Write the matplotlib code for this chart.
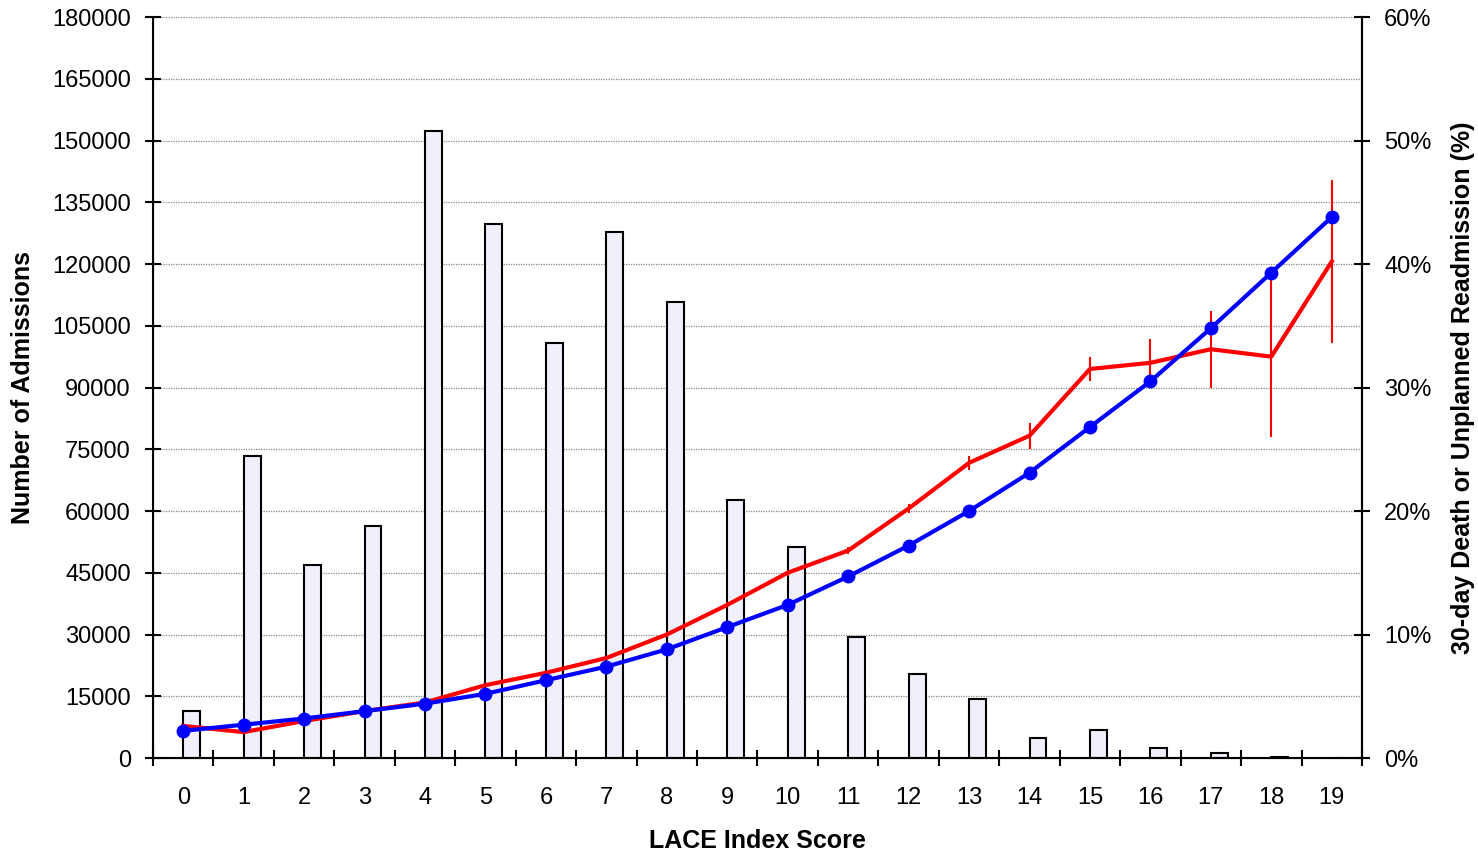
import matplotlib.pyplot as plt
import numpy as np

plt.rcParams['font.family'] = ['Liberation Sans', 'DejaVu Sans']

# LACE index score categories
scores = list(range(20))

# number of admissions per score (left axis)
admissions = [11500, 73300, 46800, 56300, 152300, 129600, 100800, 127700, 110700, 62600,
              51200, 29400, 20500, 14300, 4800, 6700, 2500, 1200, 200, 100]

# expected (blue) and observed (red) 30-day death or readmission, %
expected = [2.2, 2.7, 3.2, 3.8, 4.4, 5.2, 6.3, 7.4, 8.8, 10.6,
            12.4, 14.7, 17.2, 20.0, 23.1, 26.8, 30.5, 34.8, 39.3, 43.8]
observed = [2.6, 2.1, 3.0, 3.8, 4.5, 5.9, 6.9, 8.1, 10.0, 12.4,
            15.0, 16.8, 20.2, 23.9, 26.1, 31.5, 32.0, 33.1, 32.5, 40.2]
observed_err = [0.15, 0.1, 0.1, 0.1, 0.1, 0.1, 0.15, 0.15, 0.2, 0.2,
                0.25, 0.3, 0.4, 0.55, 1.05, 1.0, 1.9, 3.1, 6.5, 6.6]

fig = plt.figure(figsize=(14.78, 8.5), dpi=100)
ax = fig.add_axes([0.1035, 0.1082, 0.818, 0.8718])

x = np.array(scores)
ax.bar(x, admissions, width=0.28, align='edge', facecolor='#F0F0FB',
       edgecolor='black', linewidth=1.5, zorder=2)

ax.set_xlim(-0.5, 19.5)
ax.set_ylim(0, 180000)
ax.set_yticks(range(0, 180001, 15000))
ax.yaxis.grid(True, linestyle=(0, (1, 1)), color='#888888', linewidth=0.9, zorder=0)
ax.set_axisbelow(True)

ax.set_xticks(np.arange(-0.5, 20, 1))
ax.set_xticklabels([])
ax.set_xticks(x, minor=True)
ax.set_xticklabels([str(s) for s in scores], minor=True, fontsize=17)
ax.tick_params(axis='x', which='major', direction='inout', length=12, width=1.5)
ax.tick_params(axis='x', which='minor', length=0, pad=21)
ax.tick_params(axis='y', direction='inout', length=12, width=1.5, labelsize=17, pad=10)

ax.spines['top'].set_visible(False)
for side in ['left', 'bottom', 'right']:
    ax.spines[side].set_linewidth(1.5)

ax.set_xlabel('LACE Index Score', fontsize=18, fontweight='bold', labelpad=14)
ax.set_ylabel('Number of Admissions', fontsize=18, fontweight='bold', labelpad=12)

ax2 = ax.twinx()
ax2.set_ylim(0, 60)
ax2.set_yticks(range(0, 61, 10))
ax2.set_yticklabels([f'{v}%' for v in range(0, 61, 10)])
ax2.tick_params(axis='y', direction='inout', length=12, width=1.5, labelsize=17, pad=10)
ax2.spines['top'].set_visible(False)
ax2.spines['right'].set_linewidth(1.5)

ax2.errorbar(x, observed, yerr=observed_err, color='#FF0000', linewidth=3,
             elinewidth=1.5, capsize=0, zorder=3)
ax2.plot(x, expected, color='#0000FF', linewidth=3, marker='o', markersize=9, zorder=4)

ax2.set_ylabel('30-day Death or Unplanned Readmission (%)', fontsize=18,
               fontweight='bold', labelpad=14)

fig.savefig('out.png', dpi=100)
